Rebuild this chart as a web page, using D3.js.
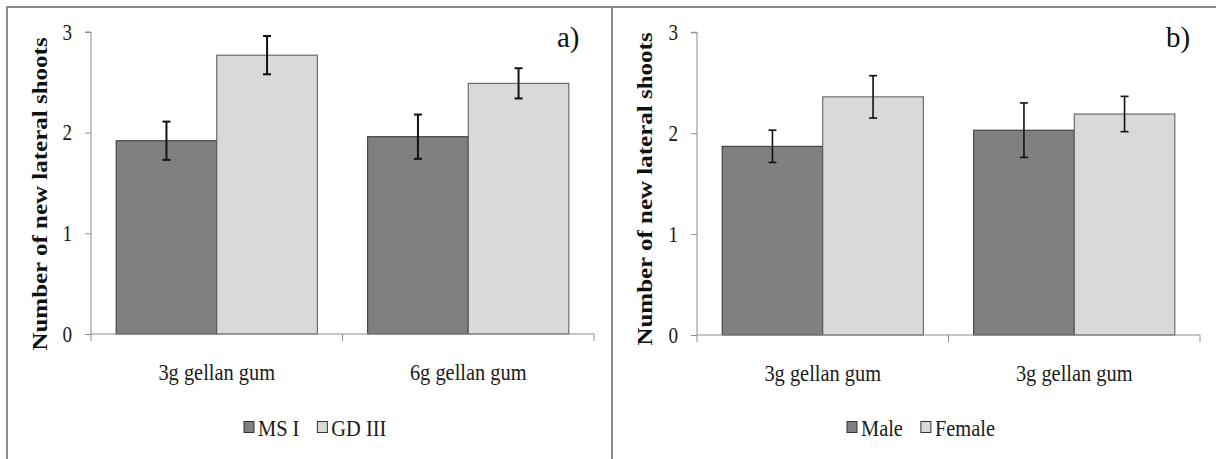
<!DOCTYPE html>
<html><head><meta charset="utf-8">
<script src="https://cdn.jsdelivr.net/npm/d3@7"></script>
<style>body{margin:0;background:#fff;} svg{display:block;}</style>
</head><body>
<svg id="c" width="1216" height="459"></svg>
<script>
// Data
const categoriesA = ["3g gellan gum", "6g gellan gum"];
const seriesA = ["MS I", "GD III"];
const valuesA = [[1.92, 2.77], [1.96, 2.49]];   // [category][series]
const errorsA = [[0.19, 0.19], [0.22, 0.15]];

const categoriesB = ["3g gellan gum", "3g gellan gum"];
const seriesB = ["Male", "Female"];
const valuesB = [[1.87, 2.36], [2.03, 2.19]];
const errorsB = [[0.16, 0.21], [0.27, 0.175]];

const yTicks = [0, 1, 2, 3];
const yLabel = "Number of new lateral shoots";
const panelTags = ["a)", "b)"];

const colors = ["#808080", "#d9d9d9"];
const FONT = '"Liberation Serif", "Times New Roman", Tinos, serif';
const SX = 0.85; // horizontal squeeze seen in reference text
const svg = d3.select("#c");

// frame lines
svg.append("line").attr("x1",7).attr("x2",1216).attr("y1",7).attr("y2",7).attr("stroke","#8c8c8c").attr("stroke-width",2);
svg.append("line").attr("x1",7).attr("x2",7).attr("y1",6).attr("y2",459).attr("stroke","#8c8c8c").attr("stroke-width",2);
svg.append("line").attr("x1",612).attr("x2",612).attr("y1",6).attr("y2",459).attr("stroke","#8c8c8c").attr("stroke-width",2);

function txt(parent, x, y, s, size, anchor){
  return parent.append("text").attr("transform",`translate(${x},${y}) scale(${SX},1)`)
    .attr("text-anchor",anchor||"start").style("font-family",FONT).style("font-size",size+"px")
    .attr("fill","#1a1a1a").text(s);
}

function panel(cfg){
  const g = svg.append("g");
  const x0 = d3.scaleBand().domain(d3.range(cfg.cats.length)).range([cfg.left, cfg.right]).paddingInner(0).paddingOuter(0);
  const x1 = d3.scaleBand().domain(d3.range(cfg.series.length)).range([0, x0.bandwidth()]).paddingInner(0).paddingOuter(0.25);
  const y = d3.scaleLinear().domain([0,3]).range([cfg.bottom, cfg.top]);

  // y axis (lines via d3 axis, labels custom)
  const ya = g.append("g").attr("transform",`translate(${cfg.left},0)`)
    .call(d3.axisLeft(y).tickValues(yTicks).tickSize(6).tickFormat(""));
  ya.select(".domain").attr("stroke","#8c8c8c").attr("d",`M-6,${y(3)}H0V${y(0)}`);
  ya.selectAll(".tick line").attr("stroke","#8c8c8c");
  yTicks.forEach(t=>{
    txt(g, cfg.left-19, y(t)+7.5, d3.format("d")(t), 22.5, "end");
  });

  // bars
  cfg.vals.forEach((row,ci)=>{
    row.forEach((v,si)=>{
      const bx = x0(ci)+x1(si);
      g.append("rect").attr("x",bx).attr("y",y(v)).attr("width",x1.bandwidth()).attr("height",y(0)-y(v))
        .attr("fill",colors[si]).attr("stroke", si===0?"#333":"#555").attr("stroke-width",1);
    });
  });
  // x axis
  const xa = g.append("g").attr("transform",`translate(0,${cfg.bottom})`);
  xa.append("line").attr("x1",cfg.left).attr("x2",cfg.right).attr("y1",0).attr("y2",0).attr("stroke","#8c8c8c");
  d3.range(cfg.cats.length+1).forEach(i=>{
    const xx = i<cfg.cats.length ? x0(i) : cfg.right;
    xa.append("line").attr("x1",xx).attr("x2",xx).attr("y1",0).attr("y2",7).attr("stroke","#8c8c8c");
  });
  cfg.cats.forEach((c,i)=>{
    txt(xa, x0(i)+x0.bandwidth()/2, 46, c, 24, "middle");
  });
  // error bars
  cfg.vals.forEach((row,ci)=>{
    row.forEach((v,si)=>{
      const cx = x0(ci)+x1(si)+x1.bandwidth()/2;
      const e = cfg.errs[ci][si];
      const eg = g.append("g").attr("stroke","#111").attr("stroke-width",cfg.ew);
      eg.append("line").attr("x1",cx).attr("x2",cx).attr("y1",y(v+e)).attr("y2",y(v-e));
      eg.append("line").attr("x1",cx-4).attr("x2",cx+4).attr("y1",y(v+e)).attr("y2",y(v+e));
      eg.append("line").attr("x1",cx-4).attr("x2",cx+4).attr("y1",y(v-e)).attr("y2",y(v-e));
    });
  });
  // y label
  g.append("text").attr("transform",`translate(${cfg.ylx},${cfg.ylc}) scale(${SX},1) rotate(-90)`)
    .attr("text-anchor","middle").style("font-family",FONT).style("font-weight","bold").style("font-size","25px")
    .attr("fill","#111").text(yLabel);
  // tag
  g.append("text").attr("x",cfg.tagx).attr("y",47).style("font-family",FONT).style("font-size","29px").attr("fill","#111").text(cfg.tag);
  // legend
  const lg = g.append("g").attr("transform",`translate(${cfg.legx},436)`);
  let off = 0;
  cfg.series.forEach((s,i)=>{
    lg.append("rect").attr("x",off).attr("y",-14.5).attr("width",10).attr("height",11).attr("fill",colors[i]).attr("stroke","#333");
    const t = txt(lg, off+14, 0, s, 24, "start");
    off += 14 + t.node().getComputedTextLength()*SX + 18;
  });
}

panel({cats:categoriesA, series:seriesA, vals:valuesA, errs:errorsA, left:91, right:594, top:32, bottom:334,
  ylx:47, ylc:194, tag:panelTags[0], tagx:557, legx:244, ew:2});
panel({cats:categoriesB, series:seriesB, vals:valuesB, errs:errorsB, left:697, right:1200, top:32.3, bottom:335,
  ylx:652, ylc:189, tag:panelTags[1], tagx:1166, legx:847, ew:1.6});
</script>
</body></html>
